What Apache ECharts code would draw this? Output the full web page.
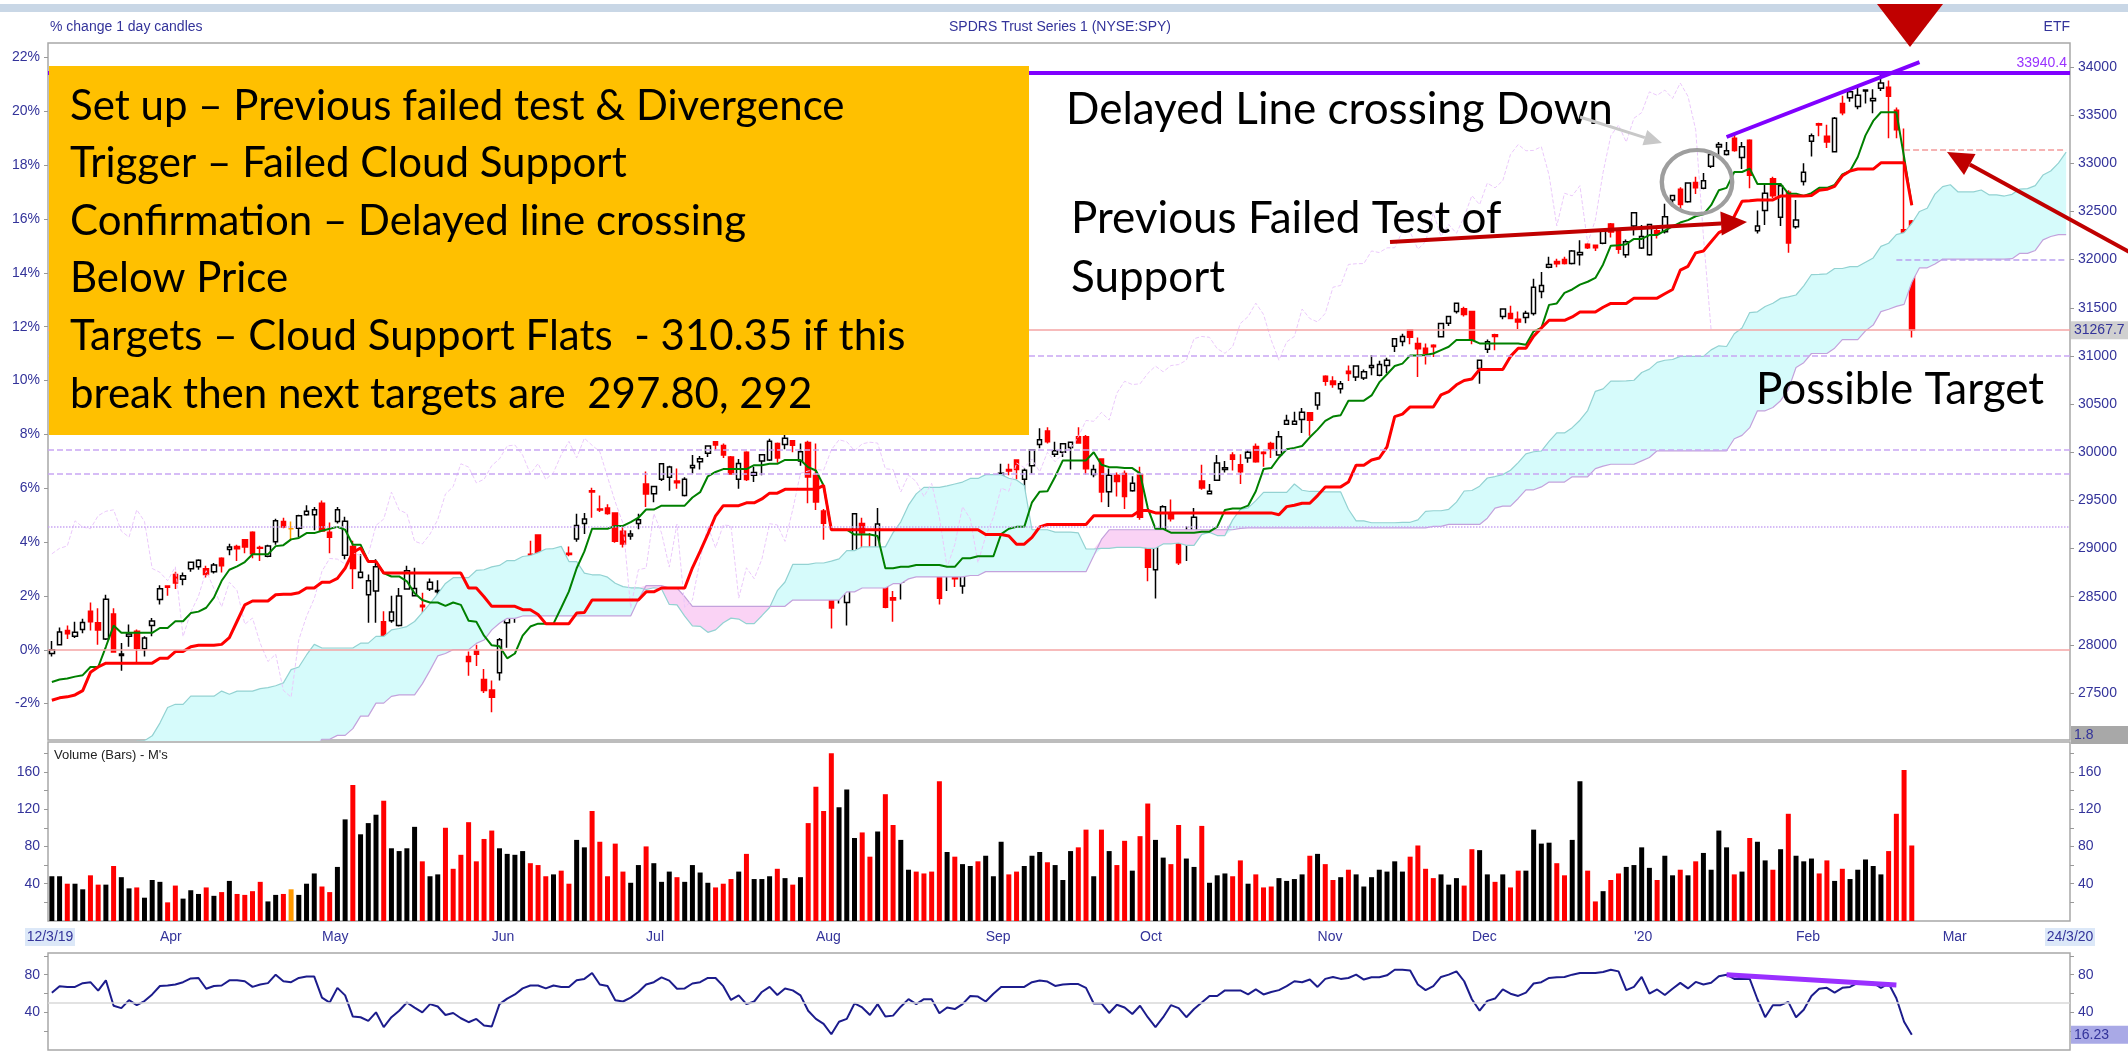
<!DOCTYPE html>
<html>
<head>
<meta charset="utf-8"/>
<script src="https://cdn.jsdelivr.net/npm/echarts@6/dist/echarts.min.js"></script>
<style>
html,body{margin:0;padding:0;background:#fff;}
#main{width:2128px;height:1057px;}
</style>
</head>
<body>
<div id="main"></div>
<script type="text/javascript">
// SPY daily bars, 12 Mar 2019 - 25 Feb 2020 (dollars)
var opens = [
 279.1,280.0,281.5,280.9,281.6,283.5,282.3,280.6,283.2,278.9,280.9,281.4,279.6,282.0,
 284.7,286.1,287.3,286.8,287.9,288.1,287.9,287.6,289.0,289.9,290.2,290.9,291.7,290.1,289.2,290.7,292.8,292.05,292.1,293.5,293.5,
 294.7,291.7,292.8,289.3,290.2,287.0,285.2,285.6,282.4,282.5,282.0,285.8,285.1,284.1,285.8,285.5,283.2,283.7,283.1,278.8,279.4,276.4,
 275.3,277.1,282.3,283.3,285.9,289.4,291.4,288.6,289.4,289.6,289.5,291.0,292.6,296.0,294.1,294.2,293.7,291.8,291.3,292.6,
 296.7,295.7,297.2,297.4,297.0,295.5,298.4,299.0,299.9,301.1,300.7,299.5,297.2,300.0,297.6,299.1,299.2,300.9,300.8,301.2,299.1,301.0,
 297.6,293.9,288.1,285.9,284.4,289.6,292.6,290.0,287.7,288.1,284.9,286.5,292.2,292.0,292.6,292.7,290.9,287.3,289.5,286.1,291.7,294.2,
 290.6,293.1,296.8,298.2,299.2,297.2,298.6,300.8,302.2,299.8,300.0,300.5,301.6,301.6,297.7,299.3,295.9,297.6,297.8,296.0,
 297.7,291.5,287.8,291.1,293.6,291.2,290.8,291.2,297.0,295.7,297.1,298.2,299.7,298.7,299.4,300.6,300.0,300.9,299.7,302.9,302.9,303.4,304.1,
 304.9,307.9,307.4,306.6,308.4,307.8,307.7,308.8,308.0,309.0,311.0,311.5,312.7,311.3,310.8,311.1,312.0,313.4,314.6,314.9,
 314.6,308.7,310.7,312.2,314.1,314.4,313.8,314.0,314.4,316.7,319.2,319.8,320.0,319.6,320.5,321.6,321.5,321.7,323.7,323.0,320.5,
 323.5,321.2,320.5,323.0,322.9,326.2,327.3,326.0,328.0,327.4,329.7,331.7,330.9,332.6,330.6,332.4,323.0,325.1,328.4,324.4,327.0,
 323.4,328.1,332.3,334.1,332.8,331.2,336.2,336.8,335.9,337.5,336.5,337.8,337.9,335.5,323.1,324.0
];
var highs = [
 280.4,281.8,282.0,282.4,282.7,284.4,283.8,285.2,283.8,280.2,282.1,281.6,280.9,282.8,
 286.2,286.2,287.6,287.5,288.6,288.9,288.2,288.5,289.1,290.5,290.4,291.0,291.8,290.3,290.4,293.1,293.2,292.8,293.5,294.5,294.3,
 295.0,292.7,294.3,293.3,290.8,289.4,287.3,288.9,283.5,285.1,285.9,288.2,288.0,285.4,286.9,286.7,283.2,284.2,284.2,279.3,280.0,277.5,
 276.3,280.7,283.0,285.2,288.9,290.8,291.4,289.3,290.0,289.9,290.2,293.6,293.7,296.3,295.5,294.6,293.7,292.2,291.9,293.6,
 298.0,296.5,298.8,298.6,298.3,297.4,299.7,299.6,300.7,301.1,300.9,299.6,299.3,300.1,298.5,299.7,301.4,301.0,302.2,301.2,300.9,301.2,
 300.9,294.1,288.2,288.0,288.8,293.6,293.2,291.6,294.2,288.7,285.6,289.3,293.1,292.8,293.1,293.8,292.8,288.0,290.0,289.1,293.2,294.2,
 291.6,294.1,298.8,298.8,299.2,298.3,300.3,302.5,302.6,301.1,300.9,301.1,302.6,301.8,298.7,299.3,298.3,297.9,298.1,297.5,
 298.5,291.5,290.5,294.5,295.1,291.8,292.3,294.2,298.7,296.7,299.7,299.1,300.0,299.8,300.2,300.9,300.1,301.1,302.2,303.9,304.2,304.6,304.1,
 306.2,308.0,307.9,307.4,309.0,309.0,308.6,310.1,309.5,309.8,311.8,312.3,312.7,311.9,311.3,311.2,313.4,314.1,315.5,315.1,
 314.7,309.6,311.7,312.3,314.9,315.2,314.6,314.7,318.0,318.7,320.3,320.1,320.3,321.0,322.0,321.7,321.5,323.0,323.8,323.1,322.1,
 324.9,323.6,323.7,323.5,325.8,326.7,327.5,328.0,328.6,329.0,330.9,332.2,332.2,333.0,332.2,332.5,325.1,327.9,328.6,327.9,327.2,
 326.2,330.0,333.1,334.2,334.0,334.8,337.0,337.7,338.1,337.7,337.7,339.4,338.6,335.8,333.6,324.1
];
var lows = [
 278.8,280.0,280.6,280.7,281.2,281.5,280.0,280.5,279.2,277.3,279.8,278.0,278.8,280.9,
 284.2,285.1,285.8,286.2,287.6,287.8,287.0,287.4,287.5,289.3,288.7,289.5,289.0,288.7,289.1,290.4,292.1,290.8,291.2,293.4,291.9,
 291.8,289.5,292.6,288.9,285.8,286.9,282.3,282.3,279.9,282.3,281.9,285.8,285.1,283.1,285.6,285.1,280.6,282.1,280.1,276.8,277.8,275.0,
 273.0,276.3,279.7,282.3,285.7,288.2,288.2,287.8,288.7,288.4,289.2,290.7,291.5,293.2,293.8,293.5,290.6,290.1,290.9,292.0,
 294.3,294.8,297.0,296.0,296.2,295.4,297.8,298.2,299.5,300.2,299.4,297.7,296.2,297.0,296.9,297.6,299.1,298.9,300.3,300.0,298.6,294.7,
 294.0,290.9,281.7,284.3,282.0,289.0,289.7,287.0,287.4,283.8,282.4,284.7,291.4,290.0,291.6,290.3,284.2,285.6,286.0,285.3,290.6,291.4,
 289.3,292.3,296.4,297.6,297.2,295.7,297.8,300.4,300.9,299.5,299.5,298.2,300.9,297.7,297.4,294.8,294.3,295.4,294.1,295.9,
 293.0,286.6,284.8,290.8,292.8,288.3,288.7,291.0,296.1,295.6,297.0,297.9,298.1,296.7,298.9,298.9,298.5,299.4,299.7,302.9,302.9,302.0,301.7,
 304.4,306.9,306.7,306.1,307.4,307.4,307.5,308.0,307.9,308.2,310.4,311.0,311.2,307.8,309.1,309.9,312.0,313.1,314.4,314.1,
 311.2,307.1,310.3,310.6,313.8,313.8,312.8,313.4,314.2,316.0,319.1,319.2,319.5,319.5,319.4,321.1,320.9,321.6,322.3,320.6,320.2,
 322.5,321.1,320.4,322.2,322.7,325.5,325.2,325.9,326.8,327.3,329.5,330.8,330.8,331.2,329.4,327.4,322.7,323.6,326.4,323.5,320.7,
 323.2,327.7,330.7,332.8,331.6,331.2,335.0,336.4,335.6,336.2,335.2,337.5,332.6,332.6,321.9,311.9
];
var closes = [
 279.49,281.34,281.16,281.31,282.33,282.40,281.55,284.73,279.25,279.04,281.12,279.65,280.71,282.48,
 285.83,285.97,286.42,287.18,288.57,288.79,287.31,288.29,288.21,290.16,289.97,290.16,289.45,290.02,290.27,292.88,292.23,292.05,293.41,293.87,294.02,
 291.81,291.18,294.03,292.82,287.93,287.53,286.66,288.10,280.86,283.40,285.06,287.70,285.84,283.95,286.51,285.63,282.14,282.78,280.15,278.27,279.03,275.27,
 274.57,280.53,282.96,284.80,287.65,288.97,288.90,288.39,289.58,289.26,289.37,292.40,293.06,295.86,294.00,293.64,290.76,290.47,291.50,293.00,
 295.66,296.43,298.80,298.46,296.82,297.19,298.61,299.31,300.65,300.75,299.71,297.74,298.83,297.17,297.90,299.73,301.13,299.41,301.45,300.72,300.06,297.43,
 294.84,292.62,283.82,287.80,287.97,293.62,291.62,288.07,292.55,283.90,284.65,288.85,292.33,290.09,292.45,292.36,284.85,288.00,286.87,288.89,292.58,292.45,
 290.74,294.04,297.81,298.05,298.20,298.13,300.25,301.29,301.09,300.16,300.87,301.04,300.95,298.28,298.21,295.87,297.62,296.96,295.40,296.77,
 293.24,288.06,290.42,294.35,293.08,288.53,291.27,293.24,296.28,295.95,298.88,298.40,299.28,297.97,299.99,299.01,299.88,300.37,301.60,303.30,303.21,304.14,303.33,
 306.14,307.37,307.03,307.10,308.18,308.94,308.35,309.00,309.10,309.55,311.79,312.02,311.93,310.75,310.27,310.96,313.37,314.08,315.48,314.31,
 311.64,309.55,311.46,312.02,314.87,313.88,313.53,314.42,317.13,317.32,319.50,319.57,319.59,320.90,320.73,321.22,321.23,322.94,322.86,321.08,321.86,
 324.87,322.41,323.64,322.73,324.45,326.65,325.71,327.95,327.45,328.19,330.92,331.95,331.30,331.34,331.72,328.77,323.50,326.89,326.62,327.68,321.73,
 324.12,329.06,332.86,333.98,332.20,334.68,335.26,337.42,337.06,337.60,336.73,338.34,336.95,333.48,322.42,312.68
];
// bars before the visible window (15 Nov 2018 - 11 Mar 2019), only used to warm up the Ichimoku lines
var priorHighs = [
 273.0,274.4,273.4,267.0,268.7,266.8,268.0,268.4,274.3,274.1,276.0,
 280.4,278.0,270.4,271.6,265.7,268.4,269.7,267.4,264.0,261.0,257.0,259.6,250.8,248.3,240.5,246.2,248.3,251.4,250.2,
 251.2,248.6,253.1,255.9,257.3,258.9,259.2,258.9,258.0,260.7,261.8,263.9,266.9,265.1,264.8,264.2,266.7,263.8,264.6,268.5,270.5,
 271.2,272.1,273.4,273.0,270.4,270.2,271.5,274.6,276.3,275.6,277.4,278.4,278.5,278.4,279.3,281.3,280.3,280.2,279.4,
 280.9,281.3,279.0,278.7,276.0,274.0,278.5
];
var priorLows = [
 265.8,269.6,267.2,263.8,265.7,263.3,264.3,265.3,268.2,271.8,272.5,
 276.0,269.5,262.3,262.9,260.8,262.4,265.4,263.5,259.9,252.5,252.9,249.9,244.5,239.8,233.8,233.8,238.9,246.3,247.5,
 245.0,243.7,247.2,251.7,253.4,256.0,255.2,256.9,256.0,257.4,259.5,259.0,263.4,260.3,260.7,262.1,265.0,260.7,262.8,264.2,267.3,
 269.2,269.3,271.9,271.4,267.2,267.8,269.9,272.4,274.1,272.4,275.4,275.8,276.8,275.4,277.3,278.5,278.1,277.1,278.2,
 278.8,275.4,277.3,275.5,272.7,271.0,274.4
];
// volume, millions
var volumes = [
 48,48,40,40,34,49,39,39,59,47, 35,36,25,44,42,20,38,24,33,29, 36,27,31,43,29,28,32,42,21,28,
 29,34,28,40,51,37,31,58,109,146, 93,105,114,129,78,75,78,101,64,48, 50,100,56,71,106,64,88,97,78,72,
 71,75,62,60,48,50,54,40,87,79, 118,85,48,83,53,41,60,80,62,42, 53,47,42,60,52,41,36,40,45,53,
 72,45,45,48,56,46,39,47,105,144, 118,180,122,141,89,95,69,96,136,103, 87,55,53,51,53,150,74,69,61,59,
 64,70,48,85,50,53,59,70,74,63, 60,44,
 75,79,98,48,98,75,60,86,54,91, 126,87,68,61,103,67,58,102,41,49, 51,48,65,40,50,36,37,46,43,45,
 50,70,72,61,44,47,55,50,37,47, 55,53,64,53,69,81,56,46,50,39, 46,38,77,76,50,42,50,36,54,54,
 98,83,84,62,49,87,150,54,21,32, 44,51,58,60,79,57,44,70,49,55, 49,64,73,55,97,79,50,53,89,85,
 65,55,77,115,70,64,67,51,65,43, 56,45,55,66,59,50,75,115,162,81
];
// lower oscillator
var osc = [
 60.9,67.8,67,67,71,72,63,74,47,44.5, 53,47.6,52,59,68,68.5,69.6,72,76,76.5,
 65,68,68.5,74,74,73,67,69.6,71,80, 73,72,76.5,78,78,55.6,50.4,66,58,35.5,
 34.8,31,40,24.3,34.8,41.7,50.4,45,40,48.7, 46.2,37.2,39.3,33.7,29.5,33,26,25,48.7,54.6,
 59,65.4,68.5,68.5,65.4,68.5,67,67,74,75.5, 81.7,69.6,68,52.9,51.5,55.6,61.6,69.6,72,77.2,
 73.7,65,65.4,70.6,72,76.5,76.5,67.8,53.2,58, 48.7,51.5,61.6,67,58.4,65.4,63.3,58,41.7,33,
 27.8,16.7,30,33,49.4,45.2,37.2,48.7,35.5,36.5, 46,54,48.7,54,54,39,45.2,43.5,48.7,57.4,
 56.7,51.5,59.8,67,67,67,67,72,73.7,72.7, 68,69.6,70,70,66,49.4,49.4,39.3,48,45.2,
 38.2,47,34.8,24.3,34.8,47.6,44.5,34.8,43.5,50.4, 57.4,57.4,63.3,63.3,63.3,59,64.3,59,61.6,63.6,
 67.8,73,72,74.8,67,75.5,77.6,75.5,76.5,80, 74.8,77.2,77.2,79.3,85.2,85.2,84.5,69.6,63.6,67.8,
 77.6,80,83.5,73,53.9,41.7,52.2,54.6,64.3,59.8, 57.4,60.9,70.6,72,76.5,77.2,77.6,80,81.7,81.7,
 81.7,82.8,85.2,83.5,63.6,67,77.6,59.8,64.3,58.4, 65,71.3,65.4,72.3,69.6,71.3,78.3,80,75.5,75.5,
 75.5,53.9,34.8,47.6,47.6,51.1,34.8,42.8,57.4,65, 66,60.9,66,67,71.3,70.6,71.3,66,70.6,55,
 30,16.23
];
// axis tick labels
var pctTicks = [22,20,18,16,14,12,10,8,6,4,2,0,-2];
var priceTicks = [34000,33500,33000,32500,32000,31500,31000,30500,30000,29500,29000,28500,28000,27500];
var volTicks = [40,80,120,160];
var oscTicks = [40,80];
var monthNames = ['Jan','Feb','Mar','Apr','May','Jun','Jul','Aug','Sep','Oct','Nov','Dec'];
// levels drawn on the chart (axis units = price x 100)
var topLevel = 33940.4;
var lastPrice = 31267.7;
var targetLevels = [31000, 30030, 29780];
var dottedLevel = 29230;
var trendPrice = [[217, 33273], [242, 34050]];
var trendOsc = [[217, 80], [239, 69]];
var holidays = ['2019-04-19','2019-05-27','2019-07-04','2019-09-02','2019-11-28','2019-12-25','2020-01-01','2020-01-20','2020-02-17'];

function tradingDays(from, to) {
  var out = [], d = new Date(from + 'T00:00:00Z'), end = new Date(to + 'T00:00:00Z');
  while (d <= end) {
    var wd = d.getUTCDay(), s = d.toISOString().slice(0, 10);
    if (wd !== 0 && wd !== 6 && holidays.indexOf(s) < 0) out.push(s);
    d.setUTCDate(d.getUTCDate() + 1);
  }
  return out;
}
var dates = tradingDays('2019-03-12', '2020-03-24');

[opens, highs, lows, closes, volumes, osc].forEach(function (a, k) {
  if (a.length !== 242) throw new Error('array ' + k + ' has ' + a.length);
});

var NAVY = '#33339a';
var BASE = closes[0] * 100;
var PMIN = 27012, PMAX = 34249;

// ichimoku lines
var allH = priorHighs.concat(highs), allL = priorLows.concat(lows), P = priorHighs.length;
function mid(end, len) {
  var h = -Infinity, l = Infinity;
  for (var k = end - len + 1; k <= end; k++) { h = Math.max(h, allH[k]); l = Math.min(l, allL[k]); }
  return (h + l) / 2 * 100;
}
var tenkan = [], kijun = [], spanA = [], spanB = [], chikou = [];
var cloudBase = [], cloudUp = [], cloudDn = [];
for (var g = 0; g < dates.length; g++) {
  tenkan.push(g < closes.length ? mid(g + P, 9) : null);
  kijun.push(g < closes.length ? mid(g + P, 26) : null);
  var s = g - 26 + P;
  var a = (mid(s, 9) + mid(s, 26)) / 2, b = mid(s, 52);
  spanA.push(a); spanB.push(b);
  cloudBase.push(Math.min(a, b));
  cloudUp.push(a > b ? a - b : 0);
  cloudDn.push(b > a ? b - a : 0);
  chikou.push(g + 26 < closes.length ? closes[g + 26] * 100 : null);
}

var candles = opens.map(function (o, i) { return [o * 100, closes[i] * 100, lows[i] * 100, highs[i] * 100]; });
var volData = volumes.map(function (v, i) {
  var c = closes[i] < opens[i] ? '#ff0000' : (closes[i] > opens[i] ? '#000000' : '#ff9900');
  return { value: v, itemStyle: { color: c } };
});

var labelStyle = { color: NAVY, fontSize: 14, fontFamily: 'Liberation Sans' };
function valAxis(grid, pos, min, max, labels, ticks, fmt) {
  return {
    type: 'value', gridIndex: grid, position: pos, min: min, max: max,
    axisLine: { show: false }, splitLine: { show: false },
    axisTick: { show: true, length: 4, lineStyle: { color: '#999' }, customValues: ticks },
    axisLabel: Object.assign({ customValues: labels, margin: 8, formatter: fmt || function (v) { return String(v); } }, labelStyle)
  };
}
var pctVals = pctTicks.map(function (p) { return BASE * (1 + p / 100); });

var myChart = echarts.init(document.getElementById('main'));
var option = {
  animation: false,
  grid: [
    { left: 48, right: 58, top: 43, height: 697, show: true, borderColor: '#a8a8a8', borderWidth: 1.5 },
    { left: 48, right: 58, top: 742, height: 179, show: true, borderColor: '#a8a8a8', borderWidth: 1.5 },
    { left: 48, right: 58, top: 953, height: 97, show: true, borderColor: '#a8a8a8', borderWidth: 1.5 }
  ],
  xAxis: [0, 1, 2].map(function (gi) {
    return {
      type: 'category', gridIndex: gi, data: dates, boundaryGap: true,
      axisLine: { show: false }, axisTick: { show: false }, splitLine: { show: false },
      axisLabel: Object.assign({
        show: gi === 1, align: 'left', margin: 9, hideOverlap: false,
        interval: function (i, v) { return i > 0 && v.slice(5, 7) !== dates[i - 1].slice(5, 7); },
        formatter: function (v) {
          var m = +v.slice(5, 7);
          return m === 1 ? "'" + v.slice(2, 4) : monthNames[m - 1];
        }
      }, labelStyle)
    };
  }),
  yAxis: [
    valAxis(0, 'right', PMIN, PMAX, priceTicks, priceTicks),
    valAxis(0, 'left', PMIN, PMAX, pctVals, pctVals, function (v) { return Math.round((v / BASE - 1) * 100) + '%'; }),
    valAxis(1, 'left', 0, 192, volTicks, [20, 40, 60, 80, 100, 120, 140, 160, 180]),
    valAxis(1, 'right', 0, 192, volTicks, [20, 40, 60, 80, 100, 120, 140, 160, 180]),
    valAxis(2, 'left', 0, 103, oscTicks, [20, 40, 60, 80, 100]),
    valAxis(2, 'right', 0, 103, oscTicks, [20, 40, 60, 80, 100])
  ],
  series: [
    { type: 'line', name: 'cloudBase', data: cloudBase, stack: 'cloud', symbol: 'none', silent: true, lineStyle: { opacity: 0 } },
    { type: 'line', name: 'cloudUp', data: cloudUp, stack: 'cloud', symbol: 'none', silent: true, lineStyle: { opacity: 0 }, areaStyle: { color: '#d6fbfb', opacity: 1 } },
    { type: 'line', name: 'cloudDn', data: cloudDn, stack: 'cloud', symbol: 'none', silent: true, lineStyle: { opacity: 0 }, areaStyle: { color: '#fad3f5', opacity: 1 } },
    { type: 'line', name: 'spanA', data: spanA, symbol: 'none', silent: true, lineStyle: { color: '#93d2d2', width: 1.2 } },
    { type: 'line', name: 'spanB', data: spanB, symbol: 'none', silent: true, lineStyle: { color: '#c3a2dc', width: 1.2 } },
    {
      type: 'line', name: 'chikou', data: chikou, symbol: 'none', silent: true,
      lineStyle: { color: '#ebc9fb', width: 1, type: 'dashed' },
      markLine: {
        silent: true, symbol: ['none', 'none'], label: { show: false },
        data: [
          { yAxis: BASE, lineStyle: { color: '#f5a5a5', width: 1.5, type: 'solid' } },
          { yAxis: lastPrice, lineStyle: { color: '#f5a5a5', width: 1.5, type: 'solid' } },
          { yAxis: dottedLevel, lineStyle: { color: '#c9a6f3', width: 1.5, type: 'dotted' } }
        ].concat(targetLevels.map(function (v) {
          return { yAxis: v, lineStyle: { color: '#c9a6f3', width: 1.5, type: 'dashed' } };
        })).concat([
          [{ coord: [239, 32000], lineStyle: { color: '#b9a0f0', width: 1.5, type: 'dashed' } }, { coord: [261, 32000] }],
          [{ coord: [240, 33140], lineStyle: { color: '#f39a9a', width: 1.5, type: 'dashed' } }, { coord: [261, 33140] }]
        ])
      }
    },
    { type: 'line', name: 'tenkan', data: tenkan, symbol: 'none', silent: true, lineStyle: { color: '#008000', width: 2 } },
    { type: 'line', name: 'kijun', data: kijun, symbol: 'none', silent: true, lineStyle: { color: '#ff0000', width: 3 } },
    {
      type: 'candlestick', name: 'SPY', data: candles, barWidth: 5,
      itemStyle: { color: '#ffffff', color0: '#ff0000', borderColor: '#000000', borderColor0: '#ff0000', borderColorDoji: '#ff9900', borderWidth: 1.5 },
      markLine: {
        silent: true, symbol: ['none', 'none'], label: { show: false },
        lineStyle: { color: '#8000ff', width: 4, type: 'solid' },
        data: [
          { yAxis: topLevel },
          [{ coord: trendPrice[0] }, { coord: trendPrice[1] }]
        ]
      }
    },
    { type: 'bar', name: 'Volume', xAxisIndex: 1, yAxisIndex: 2, data: volData, barWidth: 5 },
    {
      type: 'line', name: 'osc', xAxisIndex: 2, yAxisIndex: 4, data: osc, symbol: 'none',
      lineStyle: { color: '#1c1c8c', width: 2 },
      markLine: {
        silent: true, symbol: ['none', 'none'], label: { show: false },
        data: [
          { yAxis: 50, lineStyle: { color: '#d8d8d8', width: 1.5, type: 'solid' } },
          [{ coord: trendOsc[0], lineStyle: { color: '#9a30ff', width: 5, type: 'solid' } }, { coord: trendOsc[1] }]
        ]
      }
    }
  ]
};
myChart.setOption(option);

// annotations
function arrow(x1, y1, x2, y2, color, w, hl, hw) {
  var a = Math.atan2(y2 - y1, x2 - x1);
  var bx = x2 - hl * Math.cos(a), by = y2 - hl * Math.sin(a);
  var px = Math.sin(a) * hw / 2, py = -Math.cos(a) * hw / 2;
  return [
    { type: 'line', shape: { x1: x1, y1: y1, x2: bx, y2: by }, style: { stroke: color, lineWidth: w } },
    { type: 'polygon', shape: { points: [[x2, y2], [bx + px, by + py], [bx - px, by - py]] }, style: { fill: color } }
  ];
}
function txt(t, x, y, font, fill, align) {
  return { type: 'text', style: { text: t, x: x, y: y, font: font, fill: fill, align: align || 'left', verticalAlign: 'middle' } };
}
function tag(t, x, y, w, bg, align) {
  return [
    { type: 'rect', shape: { x: x, y: y - 9, width: w, height: 18 }, style: { fill: bg } },
    { type: 'text', style: { text: t, x: align === 'center' ? x + w / 2 : x + 3, y: y, font: '14px "Liberation Sans"', fill: NAVY, align: align || 'left', verticalAlign: 'middle' } }
  ];
}

var big = '42px Lato', note = '44px Lato';
var boxLines = [
  'Set up \u2013 Previous failed test & Divergence',
  'Trigger \u2013 Failed Cloud Support',
  'Confirmation \u2013 Delayed line crossing',
  'Below Price',
  'Targets \u2013 Cloud Support Flats  - 310.35 if this',
  'break then next targets are  297.80, 292'
];
var py = function (v) { return myChart.convertToPixel({ yAxisIndex: 0 }, v); };
var ry = function (v) { return myChart.convertToPixel({ yAxisIndex: 4 }, v); };

var gfx = [
  { type: 'rect', shape: { x: 0, y: 4, width: 2128, height: 8 }, style: { fill: '#c9d7e6' } },
  txt('% change 1 day candles', 50, 27, '14px "Liberation Sans"', NAVY),
  txt('SPDRS Trust Series 1 (NYSE:SPY)', 1060, 27, '14px "Liberation Sans"', NAVY, 'center'),
  txt('ETF', 2070, 27, '14px "Liberation Sans"', NAVY, 'right'),
  txt('33940.4', 2067, py(topLevel) - 10, '14px "Liberation Sans"', '#9933ff', 'right'),
  txt("Volume (Bars) - M's", 54, 755, '13px "Liberation Sans"', '#222'),
  { type: 'rect', shape: { x: 49, y: 66, width: 980, height: 369 }, style: { fill: '#ffc000' } }
];
boxLines.forEach(function (t, i) { gfx.push(txt(t, 70, 106 + i * 57.6, big, '#000')); });
gfx.push(txt('Delayed Line crossing Down', 1066, 110, note, '#000'));
gfx.push(txt('Previous Failed Test of', 1071, 219, note, '#000'));
gfx.push(txt('Support', 1071, 278, note, '#000'));
gfx.push(txt('Possible Target', 1756, 390, note, '#000'));
gfx = gfx.concat(arrow(1390, 242, 1747, 222, '#c00000', 4, 26, 24));
gfx = gfx.concat(arrow(2135, 255, 1947, 152, '#c00000', 4, 26, 24));
gfx = gfx.concat(arrow(1580, 117, 1662, 143, '#c8c8c8', 3, 18, 16));
gfx.push({ type: 'circle', x: 1697, y: 182, scaleX: 1.1, scaleY: 1, shape: { cx: 0, cy: 0, r: 32 }, style: { fill: null, stroke: '#9e9e9e', lineWidth: 4, strokeNoScale: true } });
gfx.push({ type: 'polygon', shape: { points: [[1877, 4], [1943, 4], [1910, 47]] }, style: { fill: '#c00000' } });
gfx = gfx.concat(tag('31267.7', 2071, py(lastPrice), 60, '#d0d0d0'));
gfx = gfx.concat(tag('1.8', 2071, 735, 60, '#a8a8a8'));
gfx = gfx.concat(tag('16.23', 2071, ry(16.23), 60, '#a9a9e6'));
gfx = gfx.concat(tag('12/3/19', 25, 937, 50, '#dce8f8', 'center'));
gfx = gfx.concat(tag('24/3/20', 2045, 937, 50, '#dce8f8', 'center'));
// annotations sit above the series
gfx.forEach(function (el) { el.z = 100; });
myChart.setOption({ graphic: gfx });
</script>
</body>
</html>
